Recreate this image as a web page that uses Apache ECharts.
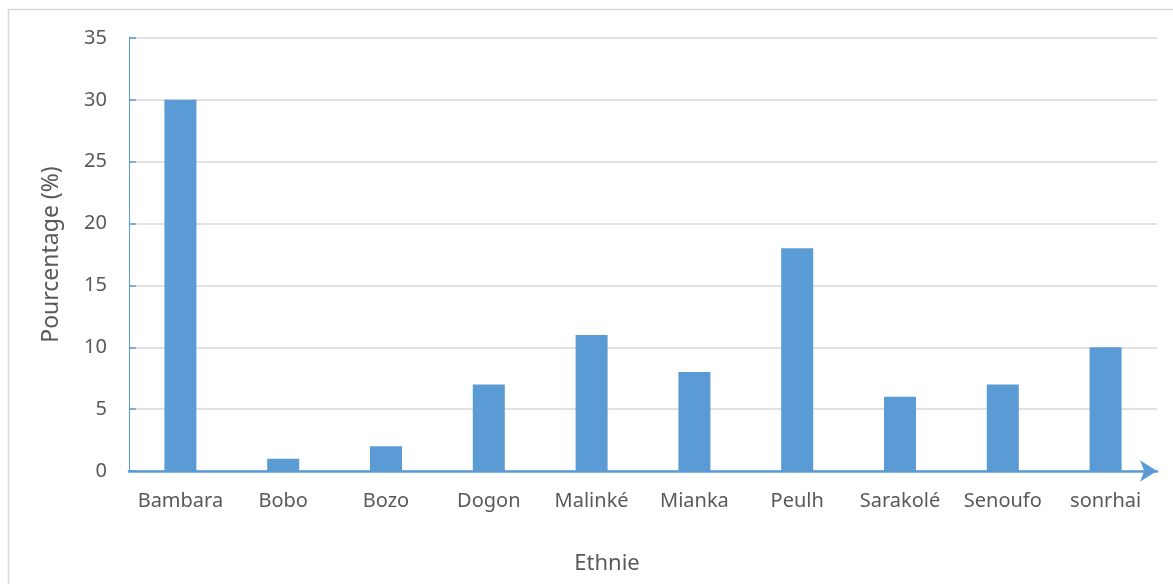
<!DOCTYPE html>
<html>
<head>
<meta charset="utf-8">
<title>Ethnie</title>
<script src="https://cdn.jsdelivr.net/npm/echarts@6/dist/echarts.min.js"></script>
<style>
  html, body { margin: 0; padding: 0; background: #fff; }
  #chart { width: 1173px; height: 584px; }
</style>
</head>
<body>
<div id="chart"></div>
<script>
// données
const ethnies = ['Bambara', 'Bobo', 'Bozo', 'Dogon', 'Malinké', 'Mianka', 'Peulh', 'Sarakolé', 'Senoufo', 'sonrhai']
const pourcentages = [30, 1, 2, 7, 11, 8, 18, 6, 7, 10]

const blue = '#5b9bd5'
const textColor = '#595959'
const font = 'Noto Sans'

let myChart = echarts.init(document.getElementById('chart'))
myChart.setOption({
  animation: false,
  textStyle: { fontFamily: font },
  grid: {
    left: 129,
    right: 16,
    top: 38,
    bottom: 113
  },
  graphic: [
    {
      type: 'rect',
      silent: true,
      shape: { x: 8.5, y: 9.5, width: 1300, height: 700 },
      style: { fill: 'none', stroke: '#d9d9d9', lineWidth: 1.5 }
    }
  ],
  xAxis: {
    type: 'category',
    data: ethnies,
    name: 'Ethnie',
    nameLocation: 'middle',
    nameGap: 82,
    nameTextStyle: {
      color: textColor,
      fontSize: 22,
      fontFamily: font,
      padding: [0, 72, 0, 0]
    },
    axisLine: {
      lineStyle: { color: blue, width: 2.5 },
      symbol: ['none', 'arrow'],
      symbolSize: [16, 17]
    },
    axisTick: { show: false },
    axisLabel: {
      interval: 0,
      color: textColor,
      fontSize: 20,
      fontFamily: font,
      margin: 20
    }
  },
  yAxis: {
    type: 'value',
    min: 0,
    max: 35,
    interval: 5,
    name: 'Pourcentage (%)',
    nameLocation: 'middle',
    nameGap: 66,
    nameTextStyle: {
      color: textColor,
      fontSize: 23,
      fontFamily: font
    },
    axisLine: {
      show: true,
      lineStyle: { color: blue, width: 1 }
    },
    axisTick: {
      show: true,
      inside: true,
      length: 7,
      lineStyle: { color: blue, width: 1.5 }
    },
    axisLabel: {
      color: textColor,
      fontSize: 20,
      fontFamily: font,
      margin: 22
    },
    splitLine: {
      lineStyle: { color: '#d9d9d9', width: 1.5 }
    }
  },
  series: [
    {
      name: 'Pourcentage',
      type: 'bar',
      data: pourcentages,
      barWidth: 32,
      itemStyle: { color: blue }
    }
  ]
})
</script>
</body>
</html>
